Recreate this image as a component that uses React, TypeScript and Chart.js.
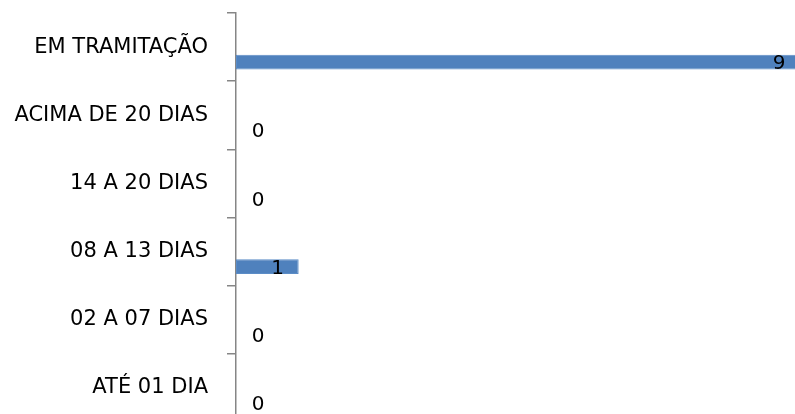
import React, { useEffect, useRef } from "react";
import { Chart, registerables } from "chart.js";

Chart.register(...registerables);

const categories = [
  "EM TRAMITAÇÃO",
  "ACIMA DE 20 DIAS",
  "14 A 20 DIAS",
  "08 A 13 DIAS",
  "02 A 07 DIAS",
  "ATÉ 01 DIA",
];
const values = [9, 0, 0, 1, 0, 0];
const emptySeries = [null, null, null, null, null, null];
const xMax = 8.92;

const FONT = "'DejaVu Sans', sans-serif";

const labelPlugin = {
  id: "valueLabels",
  afterDatasetsDraw(chart: any) {
    const ctx = chart.ctx;
    const meta = chart.getDatasetMeta(1);
    const xScale = chart.scales.x;
    ctx.save();
    ctx.font = `20px ${FONT}`;
    ctx.fillStyle = "#000";
    ctx.textAlign = "center";
    ctx.textBaseline = "middle";
    meta.data.forEach((el: any, i: number) => {
      const v = values[i];
      const base = xScale.getPixelForValue(0);
      const end = xScale.getPixelForValue(v);
      const x = v > 0 ? end - 21 : base + 22;
      ctx.fillText(String(v), x, el.y + 2);
    });
    ctx.restore();
  },
};

export default function App() {
  const ref = useRef<HTMLCanvasElement>(null);
  useEffect(() => {
    document.body.style.margin = "0";
    const chart = new Chart(ref.current!, {
      type: "bar",
      data: {
        labels: categories,
        datasets: [
          { data: emptySeries as any, backgroundColor: "transparent" },
          {
            data: values,
            backgroundColor: "#4F81BD",
            borderColor: "#5B8CC6",
            borderWidth: 1,
            borderSkipped: false,
          },
        ],
      },
      options: {
        indexAxis: "y",
        animation: false,
        responsive: false,
        devicePixelRatio: 1,
        datasets: { bar: { categoryPercentage: 0.88, barPercentage: 0.49 } },
        layout: { padding: { top: 13, bottom: 2, left: 0, right: 0 } },
        plugins: { legend: { display: false }, tooltip: { enabled: false } },
        scales: {
          x: { display: false, min: 0, max: xMax },
          y: {
            afterFit: (s: any) => {
              s.width = 236;
              s.paddingTop = 0;
              s.paddingBottom = 0;
            },
            grid: {
              drawOnChartArea: false,
              drawTicks: true,
              tickLength: 9,
              color: "#868686",
              lineWidth: 1.5,
            },
            border: { display: true, color: "#868686", width: 1.5 },
            ticks: {
              padding: 19,
              color: "#000",
              font: { family: FONT, size: 21 },
            },
          },
        },
      },
      plugins: [labelPlugin],
    });
    return () => chart.destroy();
  }, []);
  return (
    <div style={{ width: 795, height: 414, overflow: "hidden" }}>
      <canvas ref={ref} width={795} height={424} style={{ display: "block" }} />
    </div>
  );
}
